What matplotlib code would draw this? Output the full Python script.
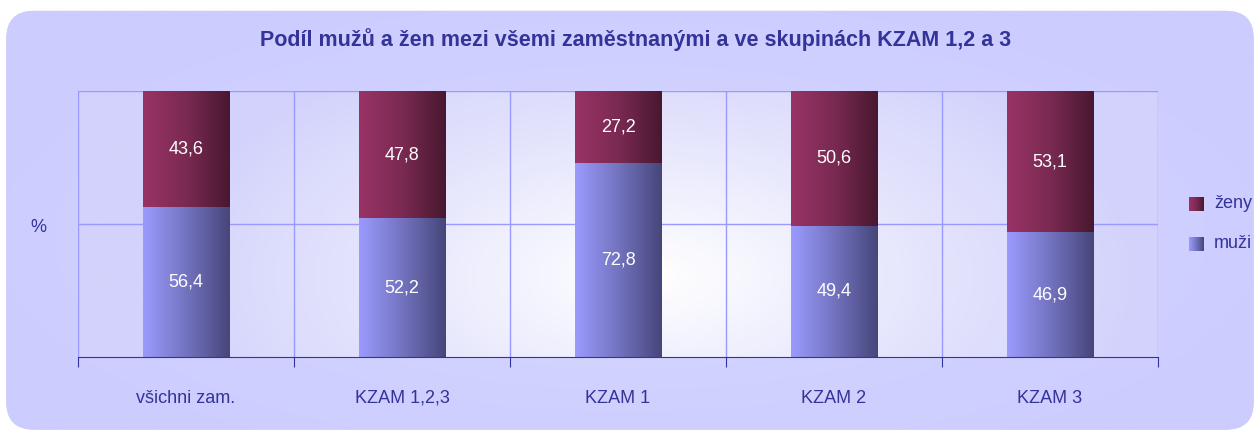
import numpy as np
import matplotlib.pyplot as plt
from matplotlib.patches import FancyBboxPatch
from matplotlib.colors import LinearSegmentedColormap

plt.rcParams['font.family'] = ['Liberation Sans', 'DejaVu Sans']

categories = ['všichni zam.', 'KZAM 1,2,3', 'KZAM 1', 'KZAM 2', 'KZAM 3']
muzi = [56.4, 52.2, 72.8, 49.4, 46.9]
zeny = [43.6, 47.8, 27.2, 50.6, 53.1]
title = 'Podíl mužů a žen mezi všemi zaměstnanými a ve skupinách KZAM 1,2 a 3'

navy = '#333399'
cm_zeny = LinearSegmentedColormap.from_list('z', ['#993366', '#7a2a52', '#48182f'])
cm_muzi = LinearSegmentedColormap.from_list('m', ['#9b9bff', '#7373c0', '#46467a'])
cm_glow = LinearSegmentedColormap.from_list('g', ['#d2d2fc', '#e4e4fd', '#ffffff'])
cm_panel = LinearSegmentedColormap.from_list('p', ['#ccccff', '#d8d8ff'])

fig = plt.figure(figsize=(12.6, 4.34), dpi=100)
fig.patch.set_facecolor('white')

# rounded panel (behind everything) with soft glow
panel = FancyBboxPatch((0.005, 0.01), 0.99, 0.965, boxstyle='round,pad=0,rounding_size=0.022',
                       transform=fig.transFigure, facecolor='#ccccff', edgecolor='none',
                       mutation_aspect=12.6 / 4.34, zorder=-5)
fig.patches.append(panel)
bg = fig.add_axes([0, 0, 1, 1], zorder=-4)
bg.patch.set_visible(False)
bg.axis('off')
gx, gy = np.meshgrid(np.linspace(0, 1, 400), np.linspace(0, 1, 200))
pd = np.clip(1 - np.sqrt(((gx - 0.5) / 0.55) ** 2 + ((gy - 0.45) / 0.6) ** 2), 0, 1)
im = bg.imshow(pd, cmap=cm_panel, extent=(0, 1, 0, 1), origin='lower', aspect='auto')
im.set_clip_path(panel)
bg.set_xlim(0, 1)
bg.set_ylim(0, 1)

ax = fig.add_axes([78 / 1260, 1 - 357 / 434, 1080 / 1260, 266 / 434])
ax.set_facecolor('none')
n = len(categories)
x = np.arange(n)

# radial glow behind the bars
ex, ey = np.meshgrid(np.linspace(0, 1, 400), np.linspace(0, 1, 200))
d = np.clip(1 - np.sqrt(((ex - 0.53) / 0.45) ** 2 + ((ey - 0.3) / 0.95) ** 2), 0, 1)
ax.imshow(d ** 0.8, cmap=cm_glow, extent=(-0.5, n - 0.5, 0, 100), origin='lower',
          aspect='auto', zorder=0)

# grid
ax.axhline(50, color='#9999ff', lw=1, zorder=1)
ax.axhline(100, color='#9999ff', lw=1, zorder=1)
for i in range(n + 1):
    ax.axvline(i - 0.5, color='#9999ff', lw=1, zorder=1)

grad = np.linspace(0, 1, 256).reshape(1, -1)
w = 0.4
bars_m = ax.bar(x, muzi, w, color='none', zorder=2)
bars_z = ax.bar(x, zeny, w, bottom=muzi, color='none', zorder=2)
for bars, cm in ((bars_m, cm_muzi), (bars_z, cm_zeny)):
    for b in bars:
        x0, y0 = b.get_x(), b.get_y()
        ax.imshow(grad, cmap=cm, extent=(x0, x0 + b.get_width(), y0, y0 + b.get_height()),
                  aspect='auto', zorder=2)
        ax.text(x0 + b.get_width() / 2, y0 + b.get_height() / 2,
                f'{b.get_height():.1f}'.replace('.', ','), ha='center', va='center',
                color='white', fontsize=13, zorder=3)
ax.set_xlim(-0.5, n - 0.5)
ax.set_ylim(0, 100)

for s in ['top', 'right', 'left']:
    ax.spines[s].set_visible(False)
ax.spines['bottom'].set_color(navy)
ax.set_yticks([])
ax.set_xticks(np.arange(n + 1) - 0.5)
ax.set_xticklabels([''] * (n + 1))
ax.tick_params(axis='x', length=7, color=navy, direction='out')
for i, c in enumerate(categories):
    ax.text(i, -15.5, c, ha='center', va='center', color=navy, fontsize=13)

fig.text(38 / 1260, 1 - 227 / 434, '%', ha='center', va='center', color=navy, fontsize=13)
fig.text(636 / 1260, 1 - 40 / 434, title, ha='center', va='center', color=navy,
         fontsize=15.5, fontweight='bold')

# legend
for label, cm, yy in (('ženy', cm_zeny, 204), ('muži', cm_muzi, 244)):
    lax = fig.add_axes([1189 / 1260, 1 - (yy + 7) / 434, 15 / 1260, 14 / 434])
    lax.imshow(grad, cmap=cm, aspect='auto', extent=(0, 1, 0, 1))
    lax.axis('off')
    fig.text(1214 / 1260, 1 - yy / 434, label, ha='left', va='center', color=navy, fontsize=13)

fig.savefig('out.png', dpi=100)
